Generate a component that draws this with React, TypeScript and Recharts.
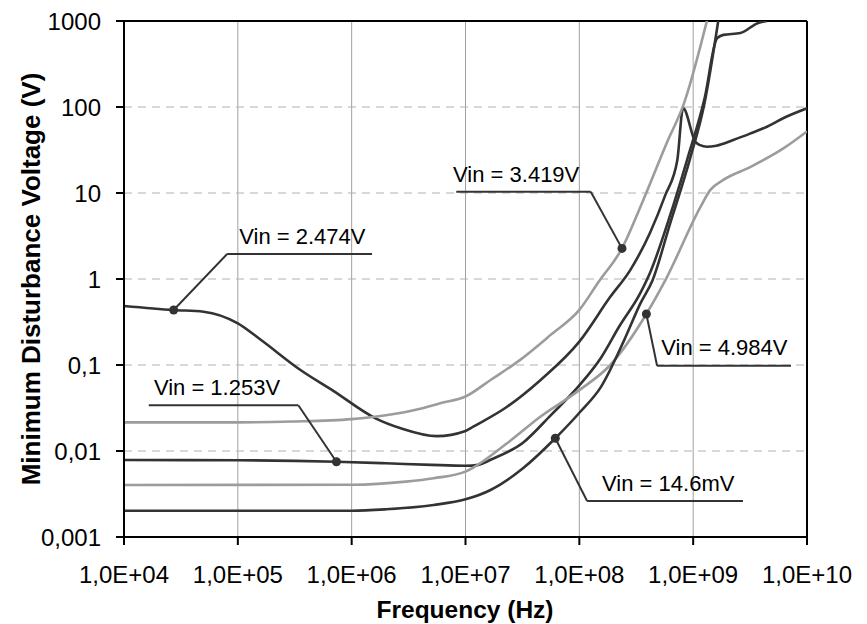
import React from 'react'
import {
  LineChart,
  Line,
  XAxis,
  YAxis,
  CartesianGrid,
  ReferenceLine,
  ReferenceDot,
} from 'recharts'

// frequency (Hz) / minimum disturbance voltage (V)
const vin2474 = [
  { f: 1e4, v: 0.486 },
  { f: 2.73e4, v: 0.436 },
  { f: 5e4, v: 0.417 },
  { f: 1e5, v: 0.305 },
  { f: 1.6e5, v: 0.195 },
  { f: 3.55e5, v: 0.0875 },
  { f: 6.9e5, v: 0.05 },
  { f: 1.62e6, v: 0.024 },
  { f: 2.7e6, v: 0.0184 },
  { f: 5.6e6, v: 0.0149 },
  { f: 1e7, v: 0.0171 },
  { f: 1.17e7, v: 0.0192 },
  { f: 2.32e7, v: 0.0327 },
  { f: 4.57e7, v: 0.067 },
  { f: 1e8, v: 0.187 },
  { f: 1.87e8, v: 0.62 },
  { f: 2.8e8, v: 1.27 },
  { f: 4.2e8, v: 3.5 },
  { f: 5.7e8, v: 9.5 },
  { f: 7.26e8, v: 24.2 },
  { f: 8.15e8, v: 97 },
  { f: 1.045e9, v: 39.5 },
  { f: 1.15e9, v: 36 },
  { f: 1.32e9, v: 34.5 },
  { f: 1.6e9, v: 35.5 },
  { f: 2.25e9, v: 41.3 },
  { f: 3.16e9, v: 49 },
  { f: 4.45e9, v: 59 },
  { f: 6.3e9, v: 75 },
  { f: 1e10, v: 96.6 },
]

const vin3419 = [
  { f: 1e4, v: 0.0215 },
  { f: 1e5, v: 0.0215 },
  { f: 3e5, v: 0.022 },
  { f: 1e6, v: 0.0235 },
  { f: 2e6, v: 0.026 },
  { f: 4e6, v: 0.031 },
  { f: 6e6, v: 0.036 },
  { f: 1e7, v: 0.043 },
  { f: 1.66e7, v: 0.067 },
  { f: 3e7, v: 0.114 },
  { f: 5.6e7, v: 0.224 },
  { f: 1e8, v: 0.437 },
  { f: 1.48e8, v: 0.93 },
  { f: 2.37e8, v: 2.27 },
  { f: 3.55e8, v: 7.6 },
  { f: 6e8, v: 41 },
  { f: 8.2e8, v: 105 },
  { f: 1.32e9, v: 1000 },
]

const vin1253 = [
  { f: 1e4, v: 0.00785 },
  { f: 1e5, v: 0.0078 },
  { f: 7.35e5, v: 0.0075 },
  { f: 2e6, v: 0.0072 },
  { f: 5e6, v: 0.0069 },
  { f: 1e7, v: 0.00674 },
  { f: 1.3e7, v: 0.0069 },
  { f: 1.66e7, v: 0.0079 },
  { f: 3.2e7, v: 0.0125 },
  { f: 5.6e7, v: 0.026 },
  { f: 1e8, v: 0.058 },
  { f: 1.54e8, v: 0.12 },
  { f: 2.24e8, v: 0.28 },
  { f: 3.44e8, v: 0.69 },
  { f: 4.2e8, v: 1.2 },
  { f: 6.3e8, v: 5.6 },
  { f: 8.9e8, v: 25 },
  { f: 1.26e9, v: 126 },
  { f: 1.62e9, v: 630 },
  { f: 1.84e9, v: 690 },
  { f: 2.6e9, v: 725 },
  { f: 3.73e9, v: 950 },
  { f: 4.45e9, v: 1000 },
]

const vin4984 = [
  { f: 1e4, v: 0.00403 },
  { f: 1e6, v: 0.00405 },
  { f: 3e6, v: 0.0044 },
  { f: 5.25e6, v: 0.00482 },
  { f: 1e7, v: 0.00575 },
  { f: 2.32e7, v: 0.0123 },
  { f: 4.54e7, v: 0.025 },
  { f: 1e8, v: 0.051 },
  { f: 1.87e8, v: 0.1 },
  { f: 3.88e8, v: 0.392 },
  { f: 5.7e8, v: 0.97 },
  { f: 1.16e9, v: 6.9 },
  { f: 1.41e9, v: 10.8 },
  { f: 1.84e9, v: 14.2 },
  { f: 3.16e9, v: 20 },
  { f: 6.2e9, v: 33 },
  { f: 1e10, v: 52 },
]

const vin146m = [
  { f: 1e4, v: 0.00202 },
  { f: 1e6, v: 0.00202 },
  { f: 2e6, v: 0.0021 },
  { f: 5.25e6, v: 0.00236 },
  { f: 1e7, v: 0.00274 },
  { f: 1.66e7, v: 0.00352 },
  { f: 3.2e7, v: 0.0063 },
  { f: 6.15e7, v: 0.01406 },
  { f: 1.02e8, v: 0.0286 },
  { f: 1.54e8, v: 0.055 },
  { f: 2.5e8, v: 0.2 },
  { f: 3.44e8, v: 0.52 },
  { f: 4.4e8, v: 0.97 },
  { f: 6.3e8, v: 4.5 },
  { f: 9.3e8, v: 24 },
  { f: 1.26e9, v: 112 },
  { f: 1.66e9, v: 1000 },
]

const xTicks = [1e4, 1e5, 1e6, 1e7, 1e8, 1e9, 1e10]
const xTickLabels = ['1,0E+04', '1,0E+05', '1,0E+06', '1,0E+07', '1,0E+08', '1,0E+09', '1,0E+10']
const yTicks = [0.001, 0.01, 0.1, 1, 10, 100, 1000]
const yTickLabels = ['0,001', '0,01', '0,1', '1', '10', '100', '1000']

// callouts: dot on the curve, elbow of the leader, end of the underline, text anchor
const callouts = [
  { text: 'Vin = 2.474V', dot: [2.73e4, 0.436], elbow: [8.05e4, 1.95], end: [1.51e6, 1.95], at: [1.03e5, 2.55] },
  { text: 'Vin = 3.419V', dot: [2.37e8, 2.27], elbow: [1.26e8, 10.35], end: [8.3e6, 10.35], at: [7.78e6, 13.5] },
  { text: 'Vin = 1.253V', dot: [7.35e5, 0.0075], elbow: [3.4e5, 0.034], end: [1.65e4, 0.034], at: [1.83e4, 0.0448] },
  { text: 'Vin = 4.984V', dot: [3.88e8, 0.392], elbow: [4.82e8, 0.098], end: [7.23e9, 0.098], at: [5.25e8, 0.1306] },
  { text: 'Vin = 14.6mV', dot: [6.15e7, 0.01406], elbow: [1.17e8, 0.00262], end: [2.74e9, 0.00262], at: [1.585e8, 0.00345] },
]

const DARK = '#333333'
const LIGHT = '#9c9c9c'
const FONT = '"Liberation Sans", Arial, sans-serif'

const series = [
  { name: '2.474V', data: vin2474, color: DARK },
  { name: '3.419V', data: vin3419, color: LIGHT },
  { name: '1.253V', data: vin1253, color: DARK },
  { name: '4.984V', data: vin4984, color: LIGHT },
  { name: '14.6mV', data: vin146m, color: DARK },
]

export default function App() {
  return (
    <div style={{ position: 'absolute', left: 0, top: 0, width: 867, height: 624, background: '#fff' }}>
      <LineChart width={867} height={624} margin={{ top: 21, right: 60, bottom: 0, left: 0 }}>
        <CartesianGrid horizontal={false} stroke="#a0a0a0" strokeWidth={1} />
        <CartesianGrid vertical={false} stroke="#b0b0b0" strokeWidth={1} strokeDasharray="8 6" />
        <XAxis
          dataKey="f"
          type="number"
          scale="log"
          domain={[1e4, 1e10]}
          allowDataOverflow
          ticks={xTicks}
          interval={0}
          height={87}
          tickSize={8}
          tickMargin={21}
          axisLine={{ stroke: '#000', strokeWidth: 2 }}
          tickLine={{ stroke: '#000', strokeWidth: 2 }}
          tick={{ fill: '#000', fontSize: 24, fontFamily: FONT }}
          tickFormatter={(_v: number, i: number) => xTickLabels[i]}
          label={{
            content: () => (
              <text x={465} y={618} textAnchor="middle" fontSize={24.5} fontWeight="bold" fontFamily={FONT} fill="#000">
                Frequency (Hz)
              </text>
            ),
          }}
        />
        <YAxis
          type="number"
          scale="log"
          domain={[0.001, 1000]}
          allowDataOverflow
          ticks={yTicks}
          interval={0}
          width={124}
          tickSize={8}
          tickMargin={15}
          axisLine={{ stroke: '#000', strokeWidth: 2 }}
          tickLine={{ stroke: '#000', strokeWidth: 2 }}
          tick={{ fill: '#000', fontSize: 24, fontFamily: FONT }}
          tickFormatter={(_v: number, i: number) => yTickLabels[i]}
          label={{
            content: () => (
              <text
                x={40}
                y={279}
                transform="rotate(-90 40 279)"
                textAnchor="middle"
                fontSize={26}
                fontWeight="bold"
                fontFamily={FONT}
                fill="#000"
              >
                Minimum Disturbance Voltage (V)
              </text>
            ),
          }}
        />

        {/* frame top / right */}
        <ReferenceLine y={1000} stroke="#000" strokeWidth={2} />
        <ReferenceLine x={1e10} stroke="#000" strokeWidth={2} />

        {series.map((s) => (
          <Line
            key={s.name}
            data={s.data}
            dataKey="v"
            type="monotone"
            stroke={s.color}
            strokeWidth={2.6}
            dot={false}
            activeDot={false}
            isAnimationActive={false}
          />
        ))}

        {callouts.map((c) => (
          <ReferenceLine
            key={c.text + 'a'}
            segment={[{ x: c.dot[0], y: c.dot[1] }, { x: c.elbow[0], y: c.elbow[1] }]}
            stroke={DARK}
            strokeWidth={2}
            ifOverflow="visible"
          />
        ))}
        {callouts.map((c) => (
          <ReferenceLine
            key={c.text + 'b'}
            segment={[{ x: c.elbow[0], y: c.elbow[1] }, { x: c.end[0], y: c.end[1] }]}
            stroke={DARK}
            strokeWidth={2}
            ifOverflow="visible"
          />
        ))}
        {callouts.map((c) => (
          <ReferenceDot key={c.text + 'd'} x={c.dot[0]} y={c.dot[1]} r={4.5} fill={DARK} stroke="none" />
        ))}
        {callouts.map((c) => (
          <ReferenceDot
            key={c.text + 't'}
            x={c.at[0]}
            y={c.at[1]}
            r={1}
            shape={(p: any) => (
              <text x={p.cx} y={p.cy} fontSize={22} fontFamily={FONT} fill="#000">
                {c.text}
              </text>
            )}
          />
        ))}
      </LineChart>
    </div>
  )
}
